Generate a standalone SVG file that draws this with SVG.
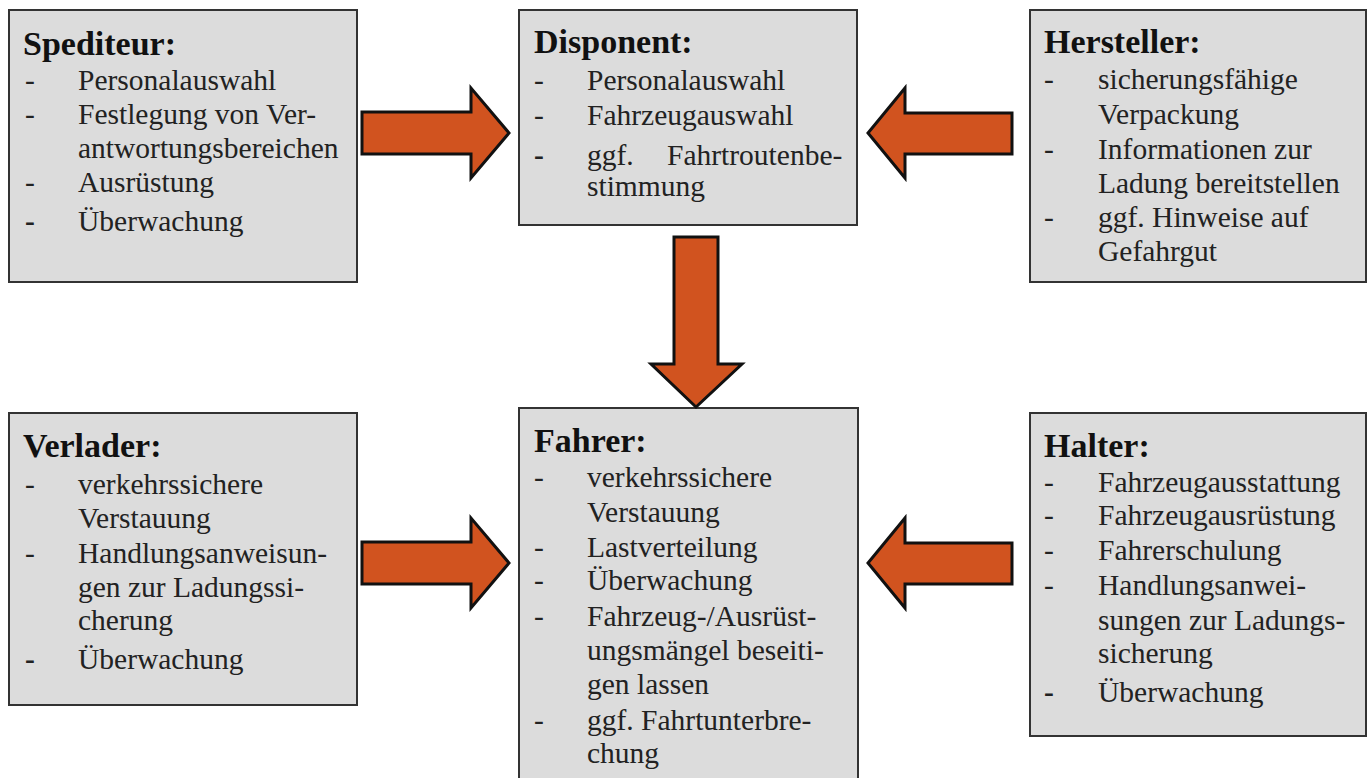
<svg xmlns="http://www.w3.org/2000/svg" width="1372" height="778" viewBox="0 0 1372 778">
<style>
.box{fill:#dcdcdc;stroke:#333333;stroke-width:2}
.t{font-family:"Liberation Serif","Times New Roman",serif;font-size:34px;font-weight:bold;fill:#111}
.i{font-family:"Liberation Serif","Times New Roman",serif;font-size:29.5px;fill:#222}
.d{font-weight:bold}
.arr{fill:#d1531f;stroke:#111;stroke-width:3;stroke-linejoin:miter}
</style>
<rect width="1372" height="778" fill="#ffffff"/>
<g id="spediteur">
<rect class="box" x="9" y="10" width="348" height="272"/>
<text class="t" x="23" y="55">Spediteur:</text>
<text class="i" x="25" y="90">-</text><text class="i" x="78" y="90">Personalauswahl</text>
<text class="i" x="25" y="124">-</text><text class="i" x="78" y="124">Festlegung von Ver-</text>
<text class="i" x="78" y="158">antwortungsbereichen</text>
<text class="i" x="25" y="192">-</text><text class="i" x="78" y="192">Ausrüstung</text>
<text class="i d" x="25" y="231">-</text><text class="i" x="78" y="231">Überwachung</text>
</g>
<g id="disponent">
<rect class="box" x="519" y="10" width="338" height="215"/>
<text class="t" x="534" y="53">Disponent:</text>
<text class="i" x="534" y="90">-</text><text class="i" x="587" y="90">Personalauswahl</text>
<text class="i" x="534" y="125">-</text><text class="i" x="587" y="125">Fahrzeugauswahl</text>
<text class="i d" x="534" y="165">-</text><text class="i" x="587" y="165">ggf.</text><text class="i" x="667" y="165">Fahrtroutenbe-</text>
<text class="i" x="587" y="196">stimmung</text>
</g>
<g id="hersteller">
<rect class="box" x="1030" y="10" width="336" height="272"/>
<text class="t" x="1044" y="53">Hersteller:</text>
<text class="i" x="1044" y="89">-</text><text class="i" x="1098" y="89">sicherungsfähige</text>
<text class="i" x="1098" y="124">Verpackung</text>
<text class="i" x="1044" y="159">-</text><text class="i" x="1098" y="159">Informationen zur</text>
<text class="i" x="1098" y="193">Ladung bereitstellen</text>
<text class="i" x="1044" y="227">-</text><text class="i" x="1098" y="227">ggf. Hinweise auf</text>
<text class="i" x="1098" y="261">Gefahrgut</text>
</g>
<g id="verlader">
<rect class="box" x="9" y="413" width="348" height="292"/>
<text class="t" x="23" y="457">Verlader:</text>
<text class="i" x="25" y="494">-</text><text class="i" x="78" y="494">verkehrssichere</text>
<text class="i" x="78" y="528">Verstauung</text>
<text class="i" x="25" y="563">-</text><text class="i" x="78" y="563">Handlungsanweisun-</text>
<text class="i" x="78" y="597">gen zur Ladungssi-</text>
<text class="i" x="78" y="630">cherung</text>
<text class="i d" x="25" y="669">-</text><text class="i" x="78" y="669">Überwachung</text>
</g>
<g id="fahrer">
<rect class="box" x="519" y="408" width="339" height="385"/>
<text class="t" x="534" y="452">Fahrer:</text>
<text class="i" x="534" y="487">-</text><text class="i" x="587" y="487">verkehrssichere</text>
<text class="i" x="587" y="522">Verstauung</text>
<text class="i" x="534" y="557">-</text><text class="i" x="587" y="557">Lastverteilung</text>
<text class="i" x="534" y="590">-</text><text class="i" x="587" y="590">Überwachung</text>
<text class="i" x="534" y="626">-</text><text class="i" x="587" y="626">Fahrzeug-/Ausrüst-</text>
<text class="i" x="587" y="660">ungsmängel beseiti-</text>
<text class="i" x="587" y="694">gen lassen</text>
<text class="i" x="534" y="730">-</text><text class="i" x="587" y="730">ggf. Fahrtunterbre-</text>
<text class="i" x="587" y="763">chung</text>
</g>
<g id="halter">
<rect class="box" x="1030" y="413" width="336" height="323"/>
<text class="t" x="1044" y="457">Halter:</text>
<text class="i" x="1044" y="492">-</text><text class="i" x="1098" y="492">Fahrzeugausstattung</text>
<text class="i" x="1044" y="525">-</text><text class="i" x="1098" y="525">Fahrzeugausrüstung</text>
<text class="i" x="1044" y="560">-</text><text class="i" x="1098" y="560">Fahrerschulung</text>
<text class="i" x="1044" y="595">-</text><text class="i" x="1098" y="595">Handlungsanwei-</text>
<text class="i" x="1098" y="630">sungen zur Ladungs-</text>
<text class="i" x="1098" y="663">sicherung</text>
<text class="i d" x="1044" y="702">-</text><text class="i" x="1098" y="702">Überwachung</text>
</g>
<g id="connectors">
<path class="arr" d="M362,112 L471,112 L471,88 L509,133 L471,178 L471,154 L362,154 Z"/>
<path class="arr" d="M1012,113 L905,113 L905,88 L868,133 L905,178 L905,154 L1012,154 Z"/>
<path class="arr" d="M674,237 L718,237 L718,364 L742,364 L696,407 L651,364 L674,364 Z"/>
<path class="arr" d="M362,542 L471,542 L471,518 L509,563 L471,608 L471,584 L362,584 Z"/>
<path class="arr" d="M1012,543 L905,543 L905,518 L868,563 L905,608 L905,584 L1012,584 Z"/>
</g>
</svg>
